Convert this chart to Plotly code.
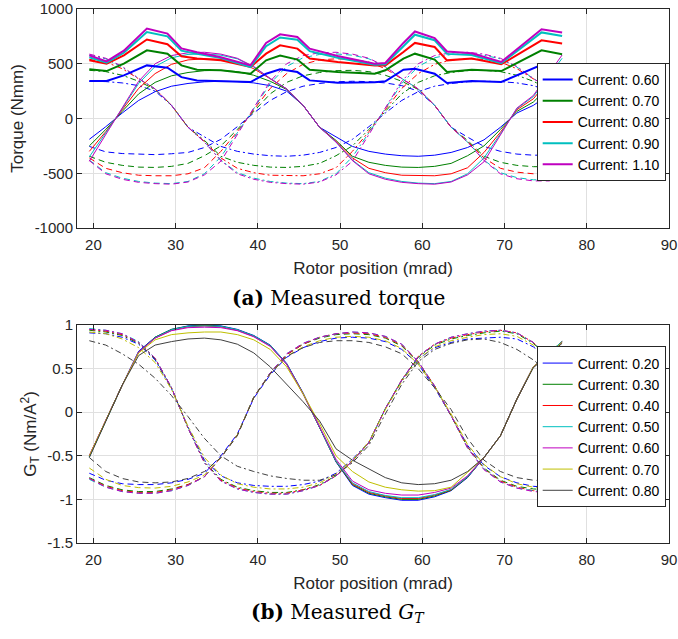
import plotly.graph_objects as go

# ---------------- data : (a) measured torque (Nmm) ----------------
X_PHASE = [19.5, 21.5, 23.5, 25.5, 27.5, 29.5, 31.5, 33.5, 35.5, 37.5, 39.5, 41.5, 43.5, 45.5,
           47.5, 49.5, 51.5, 53.5, 55.5, 57.5, 59.5, 61.5, 63.5, 65.5, 67.5, 69.5, 71.5, 73.5, 75.5]
X_SOLID = X_PHASE + [77.0]
X_TOTAL = [19.5, 21.6, 23.7, 26.5, 29.0, 30.7, 32.6, 35.5, 39.1, 41.0, 42.7, 44.8, 46.3, 49.7,
           54.2, 55.5, 57.7, 59.1, 61.5, 63.0, 66.0, 69.6, 74.5, 77.0]

TORQUE_CURRENTS = ["0.60", "0.70", "0.80", "0.90", "1.10"]
TORQUE_COLORS = ["#0000ff", "#008000", "#ff0000", "#00bfbf", "#bf00bf"]

total_060 = [342, 342, 394, 485, 464, 378, 348, 342, 333, 409, 450, 424, 348, 327, 330, 340, 446, 455, 409, 324, 342, 333, 490, 460]
total_070 = [449, 433, 501, 623, 592, 485, 446, 440, 409, 531, 574, 538, 446, 424, 409, 440, 547, 592, 538, 424, 446, 433, 623, 586]
total_080 = [531, 501, 577, 721, 678, 568, 548, 532, 470, 592, 668, 638, 547, 516, 485, 485, 607, 690, 653, 531, 547, 495, 714, 684]
total_090 = [560, 510, 600, 790, 750, 620, 590, 552, 470, 660, 740, 720, 615, 555, 490, 495, 660, 765, 715, 590, 580, 505, 786, 754]
total_110 = [577, 522, 620, 821, 775, 640, 605, 560, 485, 690, 769, 745, 638, 571, 500, 507, 690, 795, 735, 612, 595, 516, 815, 785]

ta_060 = [-190, -75, 50, 165, 245, 295, 320, 335, 340, 337, 325, 300, 250, 120, -80, -170, -255, -300, -325, -340, -345, -335, -310, -265, -195, -80, 50, 120, 220, 300]
ta_070 = [-250, -100, 65, 225, 330, 390, 420, 437, 440, 428, 395, 340, 265, 120, -80, -200, -345, -400, -428, -444, -447, -437, -410, -340, -250, -100, 65, 150, 300, 400]
ta_080 = [-300, -120, 80, 275, 410, 495, 535, 545, 540, 515, 455, 360, 270, 120, -80, -210, -360, -455, -495, -518, -523, -523, -505, -450, -310, -125, 80, 180, 360, 480]
ta_090 = [-350, -135, 90, 320, 475, 555, 585, 590, 578, 545, 470, 365, 270, 120, -80, -215, -380, -495, -545, -575, -590, -595, -575, -505, -360, -140, 90, 200, 400, 550]
ta_110 = [-390, -150, 95, 340, 500, 575, 600, 605, 588, 550, 475, 365, 270, 120, -80, -215, -385, -505, -555, -583, -595, -600, -580, -515, -395, -155, 95, 210, 420, 580]

tb_060 = [-255, -305, -320, -328, -330, -322, -310, -265, -190, -75, 50, 165, 245, 295, 320, 335, 340, 337, 325, 300, 250, 120, -80, -170, -255, -300, -325, -335, -335]
tb_070 = [-345, -400, -428, -444, -447, -437, -410, -340, -250, -100, 65, 225, 330, 390, 420, 437, 440, 428, 395, 340, 265, 120, -80, -200, -345, -400, -428, -440, -440]
tb_080 = [-360, -455, -495, -518, -523, -523, -505, -450, -300, -120, 80, 275, 410, 495, 535, 545, 540, 515, 455, 360, 270, 120, -80, -210, -360, -455, -490, -505, -505]
tb_090 = [-380, -495, -545, -575, -590, -595, -575, -505, -350, -135, 90, 320, 475, 555, 585, 590, 578, 545, 470, 365, 270, 120, -80, -215, -380, -495, -540, -560, -560]
tb_110 = [-385, -505, -555, -583, -595, -600, -580, -515, -390, -150, 95, 340, 500, 575, 600, 605, 588, 550, 475, 365, 270, 120, -80, -215, -385, -505, -550, -570, -570]

tc_060 = [340, 337, 325, 300, 250, 120, -80, -170, -255, -300, -325, -340, -345, -335, -310, -265, -190, -75, 50, 165, 245, 295, 320, 335, 340, 337, 325, 300, 250]
tc_070 = [440, 428, 395, 340, 265, 120, -80, -200, -345, -400, -428, -444, -447, -437, -410, -340, -250, -100, 65, 225, 330, 390, 420, 437, 440, 428, 395, 340, 265]
tc_080 = [540, 515, 455, 360, 270, 120, -80, -210, -360, -455, -495, -518, -523, -523, -505, -450, -300, -120, 80, 275, 410, 495, 535, 545, 540, 515, 455, 360, 270]
tc_090 = [578, 545, 470, 365, 270, 120, -80, -215, -380, -495, -545, -575, -590, -595, -575, -505, -350, -135, 90, 320, 475, 555, 585, 590, 578, 545, 470, 365, 270]
tc_110 = [588, 550, 475, 365, 270, 120, -80, -215, -385, -505, -555, -583, -595, -600, -580, -515, -390, -150, 95, 340, 500, 575, 600, 605, 588, 550, 475, 365, 270]

# ---------------- data : (b) measured G_T (Nm/A^2) ----------------
GT_CURRENTS = ["0.20", "0.30", "0.40", "0.50", "0.60", "0.70", "0.80"]
GT_COLORS = ["#0000ff", "#008000", "#ff0000", "#00bfbf", "#bf00bf", "#bfbf00", "#404040"]

ga_020 = [-0.50, -0.09, 0.31, 0.70, 0.86, 0.95, 0.99, 1.00, 0.99, 0.95, 0.88, 0.77, 0.56, 0.22, -0.17, -0.57, -0.84, -0.94, -0.98, -1.01, -1.01, -0.97, -0.90, -0.75, -0.52, -0.27, 0.15, 0.52, 0.68, 0.81]
ga_030 = [-0.51, -0.10, 0.31, 0.69, 0.86, 0.95, 0.985, 0.995, 0.985, 0.945, 0.875, 0.765, 0.555, 0.215, -0.17, -0.565, -0.83, -0.93, -0.97, -1.00, -1.00, -0.96, -0.895, -0.745, -0.52, -0.27, 0.15, 0.52, 0.69, 0.81]
ga_040 = [-0.50, -0.09, 0.31, 0.69, 0.85, 0.94, 0.98, 0.99, 0.98, 0.94, 0.87, 0.76, 0.55, 0.21, -0.17, -0.56, -0.82, -0.92, -0.96, -0.99, -0.99, -0.95, -0.89, -0.74, -0.52, -0.27, 0.15, 0.52, 0.68, 0.81]
ga_050 = [-0.51, -0.09, 0.31, 0.69, 0.855, 0.945, 0.985, 0.99, 0.985, 0.945, 0.875, 0.765, 0.555, 0.21, -0.17, -0.56, -0.81, -0.91, -0.955, -0.98, -0.98, -0.945, -0.885, -0.74, -0.52, -0.27, 0.15, 0.52, 0.69, 0.81]
ga_060 = [-0.50, -0.09, 0.31, 0.69, 0.85, 0.935, 0.97, 0.975, 0.97, 0.935, 0.865, 0.755, 0.55, 0.21, -0.16, -0.54, -0.79, -0.89, -0.93, -0.95, -0.95, -0.92, -0.87, -0.73, -0.52, -0.27, 0.15, 0.52, 0.68, 0.80]
ga_070 = [-0.50, -0.09, 0.31, 0.68, 0.83, 0.89, 0.91, 0.92, 0.92, 0.89, 0.83, 0.72, 0.52, 0.21, -0.13, -0.50, -0.68, -0.80, -0.86, -0.89, -0.905, -0.90, -0.86, -0.69, -0.52, -0.27, 0.15, 0.52, 0.68, 0.80]
ga_080 = [-0.52, -0.10, 0.31, 0.65, 0.77, 0.81, 0.84, 0.85, 0.83, 0.78, 0.68, 0.52, 0.32, 0.12, -0.10, -0.42, -0.55, -0.65, -0.75, -0.81, -0.83, -0.82, -0.78, -0.68, -0.52, -0.27, 0.15, 0.51, 0.67, 0.79]

gb_020 = [-0.70, -0.78, -0.82, -0.83, -0.83, -0.81, -0.77, -0.70, -0.50, -0.25, 0.16, 0.43, 0.63, 0.74, 0.81, 0.85, 0.86, 0.85, 0.81, 0.72, 0.55, 0.28, -0.04, -0.38, -0.61, -0.74, -0.81, -0.85, -0.86]
gb_030 = [-0.75, -0.84, -0.89, -0.91, -0.91, -0.88, -0.83, -0.74, -0.52, -0.26, 0.17, 0.45, 0.66, 0.78, 0.85, 0.89, 0.90, 0.89, 0.85, 0.76, 0.57, 0.30, -0.04, -0.40, -0.64, -0.78, -0.85, -0.88, -0.89]
gb_040 = [-0.76, -0.85, -0.90, -0.92, -0.92, -0.89, -0.83, -0.74, -0.52, -0.26, 0.17, 0.45, 0.66, 0.78, 0.86, 0.90, 0.91, 0.90, 0.86, 0.77, 0.58, 0.30, -0.04, -0.40, -0.65, -0.79, -0.86, -0.90, -0.91]
gb_050 = [-0.77, -0.86, -0.91, -0.93, -0.93, -0.90, -0.84, -0.74, -0.52, -0.26, 0.17, 0.45, 0.67, 0.79, 0.86, 0.90, 0.92, 0.91, 0.87, 0.78, 0.58, 0.30, -0.04, -0.41, -0.65, -0.80, -0.87, -0.90, -0.91]
gb_060 = [-0.76, -0.86, -0.91, -0.93, -0.93, -0.90, -0.84, -0.74, -0.52, -0.26, 0.17, 0.45, 0.67, 0.79, 0.86, 0.90, 0.92, 0.91, 0.87, 0.78, 0.58, 0.30, -0.04, -0.41, -0.66, -0.80, -0.87, -0.91, -0.92]
gb_070 = [-0.64, -0.77, -0.84, -0.865, -0.87, -0.85, -0.80, -0.72, -0.52, -0.26, 0.17, 0.44, 0.64, 0.75, 0.82, 0.86, 0.87, 0.86, 0.82, 0.73, 0.55, 0.29, -0.02, -0.37, -0.60, -0.74, -0.82, -0.86, -0.87]
gb_080 = [-0.52, -0.68, -0.76, -0.80, -0.81, -0.80, -0.76, -0.68, -0.52, -0.27, 0.17, 0.44, 0.64, 0.74, 0.80, 0.82, 0.82, 0.80, 0.75, 0.67, 0.50, 0.28, 0.03, -0.30, -0.55, -0.68, -0.75, -0.78, -0.79]

gc_020 = [0.91, 0.90, 0.86, 0.78, 0.60, 0.27, -0.17, -0.55, -0.73, -0.81, -0.84, -0.85, -0.85, -0.83, -0.79, -0.70, -0.54, -0.34, 0.04, 0.36, 0.61, 0.74, 0.80, 0.84, 0.85, 0.86, 0.84, 0.75, 0.60]
gc_030 = [0.94, 0.92, 0.88, 0.79, 0.61, 0.28, -0.18, -0.57, -0.77, -0.86, -0.90, -0.92, -0.92, -0.89, -0.83, -0.73, -0.56, -0.35, 0.04, 0.37, 0.63, 0.77, 0.84, 0.88, 0.91, 0.93, 0.90, 0.79, 0.62]
gc_040 = [0.95, 0.93, 0.89, 0.80, 0.62, 0.28, -0.18, -0.58, -0.78, -0.87, -0.91, -0.93, -0.93, -0.89, -0.84, -0.73, -0.56, -0.35, 0.04, 0.37, 0.64, 0.78, 0.85, 0.89, 0.92, 0.94, 0.91, 0.80, 0.62]
gc_050 = [0.96, 0.94, 0.90, 0.81, 0.62, 0.28, -0.18, -0.58, -0.79, -0.88, -0.92, -0.94, -0.94, -0.90, -0.84, -0.73, -0.56, -0.35, 0.04, 0.37, 0.64, 0.78, 0.86, 0.90, 0.93, 0.94, 0.91, 0.80, 0.62]
gc_060 = [0.95, 0.94, 0.90, 0.80, 0.62, 0.28, -0.18, -0.58, -0.79, -0.88, -0.92, -0.94, -0.94, -0.90, -0.84, -0.73, -0.56, -0.35, 0.04, 0.37, 0.64, 0.78, 0.86, 0.90, 0.93, 0.94, 0.91, 0.80, 0.62]
gc_070 = [0.92, 0.90, 0.84, 0.74, 0.57, 0.26, -0.16, -0.52, -0.72, -0.82, -0.86, -0.88, -0.88, -0.86, -0.81, -0.71, -0.55, -0.34, 0.03, 0.35, 0.61, 0.75, 0.82, 0.86, 0.89, 0.90, 0.87, 0.77, 0.60]
gc_080 = [0.82, 0.77, 0.67, 0.55, 0.39, 0.19, -0.05, -0.30, -0.50, -0.62, -0.68, -0.73, -0.76, -0.78, -0.78, -0.72, -0.58, -0.38, -0.02, 0.32, 0.58, 0.72, 0.79, 0.83, 0.84, 0.80, 0.72, 0.60, 0.45]

X_TICKS = [20, 30, 40, 50, 60, 70, 80, 90]
TORQUE_TICKS = [-1000, -500, 0, 500, 1000]
TORQUE_TICKTEXT = ["-1000", "-500", "0", "500", "1000"]
GT_TICKS = [-1.5, -1, -0.5, 0, 0.5, 1]
GT_TICKTEXT = ["-1.5", "-1", "-0.5", "0", "0.5", "1"]

# ---------------- figure ----------------
FONT = "Liberation Sans, Arial, sans-serif"
DASH = "6px,4px"
DASHDOT = "6px,3px,2px,3px"

fig = go.Figure()

torque_total = [total_060, total_070, total_080, total_090, total_110]
torque_a = [ta_060, ta_070, ta_080, ta_090, ta_110]
torque_b = [tb_060, tb_070, tb_080, tb_090, tb_110]
torque_c = [tc_060, tc_070, tc_080, tc_090, tc_110]

for i, col in enumerate(TORQUE_COLORS):
    fig.add_trace(go.Scatter(x=X_SOLID, y=torque_a[i], mode="lines", line=dict(color=col, width=1),
                             showlegend=False, xaxis="x", yaxis="y"))
    fig.add_trace(go.Scatter(x=X_PHASE, y=torque_b[i], mode="lines", line=dict(color=col, width=1, dash=DASH),
                             showlegend=False, xaxis="x", yaxis="y"))
    fig.add_trace(go.Scatter(x=X_PHASE, y=torque_c[i], mode="lines", line=dict(color=col, width=1, dash=DASHDOT),
                             showlegend=False, xaxis="x", yaxis="y"))
for i, col in enumerate(TORQUE_COLORS):
    fig.add_trace(go.Scatter(x=X_TOTAL, y=torque_total[i], mode="lines", line=dict(color=col, width=2),
                             name="Current: " + TORQUE_CURRENTS[i], legend="legend",
                             xaxis="x", yaxis="y"))

gt_a = [ga_020, ga_030, ga_040, ga_050, ga_060, ga_070, ga_080]
gt_b = [gb_020, gb_030, gb_040, gb_050, gb_060, gb_070, gb_080]
gt_c = [gc_020, gc_030, gc_040, gc_050, gc_060, gc_070, gc_080]

for i, col in enumerate(GT_COLORS):
    fig.add_trace(go.Scatter(x=X_PHASE, y=gt_b[i], mode="lines", line=dict(color=col, width=1, dash=DASH),
                             showlegend=False, xaxis="x2", yaxis="y2"))
    fig.add_trace(go.Scatter(x=X_PHASE, y=gt_c[i], mode="lines", line=dict(color=col, width=1, dash=DASHDOT),
                             showlegend=False, xaxis="x2", yaxis="y2"))
for i, col in enumerate(GT_COLORS):
    fig.add_trace(go.Scatter(x=X_SOLID, y=gt_a[i], mode="lines", line=dict(color=col, width=1),
                             name="Current: " + GT_CURRENTS[i], legend="legend2",
                             xaxis="x2", yaxis="y2"))

axis_common = dict(showline=True, linecolor="#262626", linewidth=1, mirror="ticks",
                   ticks="inside", ticklen=5, tickcolor="#262626", automargin=False,
                   ticklabeloverflow="allow",
                   showgrid=True, gridcolor="#e0e0e0", gridwidth=1, zeroline=False,
                   tickfont=dict(family=FONT, size=15, color="#262626"))

title_font = dict(family=FONT, size=17, color="#262626")

fig.update_layout(
    width=678, height=639,
    margin=dict(l=77, r=9, t=9, b=96, autoexpand=False),
    paper_bgcolor="white", plot_bgcolor="white",
    font=dict(family=FONT, color="#262626"),
    xaxis=dict(domain=[0, 1], range=[18, 90], tickvals=X_TICKS, anchor="y", ticklabelstandoff=3,
               title=dict(text="Rotor position (mrad)", font=title_font, standoff=10),
               **axis_common),
    yaxis=dict(domain=[0.5899, 1], range=[-1000, 1000], tickvals=TORQUE_TICKS, ticktext=TORQUE_TICKTEXT,
               anchor="x",
               title=dict(text="Torque (Nmm)", font=title_font, standoff=6),
               **axis_common),
    xaxis2=dict(domain=[0, 1], range=[18, 90], tickvals=X_TICKS, anchor="y2", ticklabelstandoff=3,
                title=dict(text="Rotor position (mrad)", font=title_font, standoff=10),
                **axis_common),
    yaxis2=dict(domain=[0, 0.4082], range=[-1.5, 1], tickvals=GT_TICKS, ticktext=GT_TICKTEXT,
                anchor="x2",
                title=dict(text="G<sub>T</sub> (Nm/A<sup>2</sup>)", font=title_font, standoff=6),
                **axis_common),
    legend=dict(x=0.7765, y=0.899, xanchor="left", yanchor="top",
                bgcolor="white", bordercolor="#262626", borderwidth=1,
                font=dict(family=FONT, size=14, color="#000000"), tracegroupgap=0),
    legend2=dict(x=0.7765, y=0.368, xanchor="left", yanchor="top",
                 bgcolor="white", bordercolor="#262626", borderwidth=1,
                 font=dict(family=FONT, size=14, color="#000000"), tracegroupgap=0),
    annotations=[
        dict(text="<b>(a)</b> Measured torque", x=0.441, y=0.4588, xref="paper", yref="paper",
             showarrow=False, xanchor="center", yanchor="middle",
             font=dict(family="DejaVu Serif, serif", size=20, color="#000000")),
        dict(text="<b>(b)</b> Measured <i>G</i><sub><i>T</i></sub>", x=0.441, y=-0.131, xref="paper", yref="paper",
             showarrow=False, xanchor="center", yanchor="middle",
             font=dict(family="DejaVu Serif, serif", size=20, color="#000000")),
    ],
)

# remove the default page margin so the 678 x 639 figure fills the window exactly
fig.write_html("out.html", config={"displayModeBar": False},
               post_script="document.body.style.margin='0';document.documentElement.style.overflow='hidden';")
